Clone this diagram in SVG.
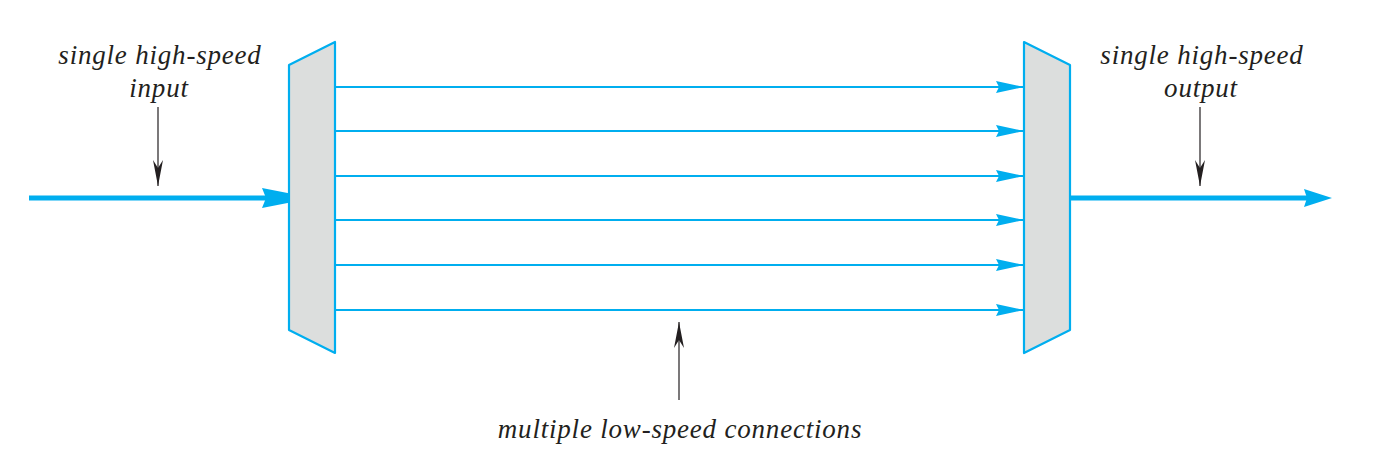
<svg xmlns="http://www.w3.org/2000/svg" width="1387" height="454" viewBox="0 0 1387 454">
<defs>
<style>
.mux{fill:#dcdedd;stroke:#00aeef;stroke-width:2.2;stroke-linejoin:round}
.thin{stroke:#00aeef;stroke-width:2;fill:none}
.thick{stroke:#00aeef;stroke-width:5;fill:none}
.head{fill:#00aeef}
.lbl{font-style:italic;font-size:27px;letter-spacing:0.8px;fill:#231f20;text-anchor:middle}
.pt{stroke:#231f20;stroke-width:1.2;fill:none}
</style>
<marker id="ah" viewBox="0 0 28 12" refX="28" refY="6" markerWidth="28" markerHeight="12" markerUnits="userSpaceOnUse" orient="auto">
<path d="M0,0 L28,6 L0,12 L3,6 Z" fill="#00aeef"/>
</marker>
<marker id="bh" viewBox="0 0 26 12" refX="26" refY="6" markerWidth="26" markerHeight="12" markerUnits="userSpaceOnUse" orient="auto">
<path d="M0,1 L26,6 L0,11 L8,6 Z" fill="#231f20"/>
</marker>
</defs>
<g id="connectors">
<line class="thick" x1="29" y1="198" x2="268" y2="198"/>
<path class="head" d="M262,188 L313,198 L262,208 L266,198 Z"/>
<line class="thin" x1="335" y1="87" x2="1024" y2="87" marker-end="url(#ah)"/>
<line class="thin" x1="335" y1="131" x2="1024" y2="131" marker-end="url(#ah)"/>
<line class="thin" x1="335" y1="176" x2="1024" y2="176" marker-end="url(#ah)"/>
<line class="thin" x1="335" y1="220" x2="1024" y2="220" marker-end="url(#ah)"/>
<line class="thin" x1="335" y1="265" x2="1024" y2="265" marker-end="url(#ah)"/>
<line class="thin" x1="335" y1="310" x2="1024" y2="310" marker-end="url(#ah)"/>
<line class="thick" x1="1070" y1="198" x2="1310" y2="198"/>
<path class="head" d="M1304,189 L1332,198 L1304,207 L1307,198 Z"/>
<line class="pt" x1="158" y1="107" x2="158" y2="186" marker-end="url(#bh)"/>
<line class="pt" x1="1200" y1="107" x2="1200" y2="186" marker-end="url(#bh)"/>
<line class="pt" x1="679" y1="400" x2="679" y2="322" marker-end="url(#bh)"/>
</g>
<g id="demux">
<polygon class="mux" points="289,65 335,42 335,353 289,330"/>
</g>
<g id="mux">
<polygon class="mux" points="1024,42 1070,65 1070,330 1024,353"/>
</g>
<g id="labels" font-family="'Liberation Serif', 'Times New Roman', 'DejaVu Serif', serif">
<g id="label-input">
<text class="lbl" x="160" y="64">single high-speed</text>
<text class="lbl" x="159" y="97">input</text>
</g>
<g id="label-output">
<text class="lbl" x="1202" y="64">single high-speed</text>
<text class="lbl" x="1201" y="97">output</text>
</g>
<g id="label-bottom">
<text class="lbl" x="680" y="438">multiple low-speed connections</text>
</g>
</g>
</svg>
